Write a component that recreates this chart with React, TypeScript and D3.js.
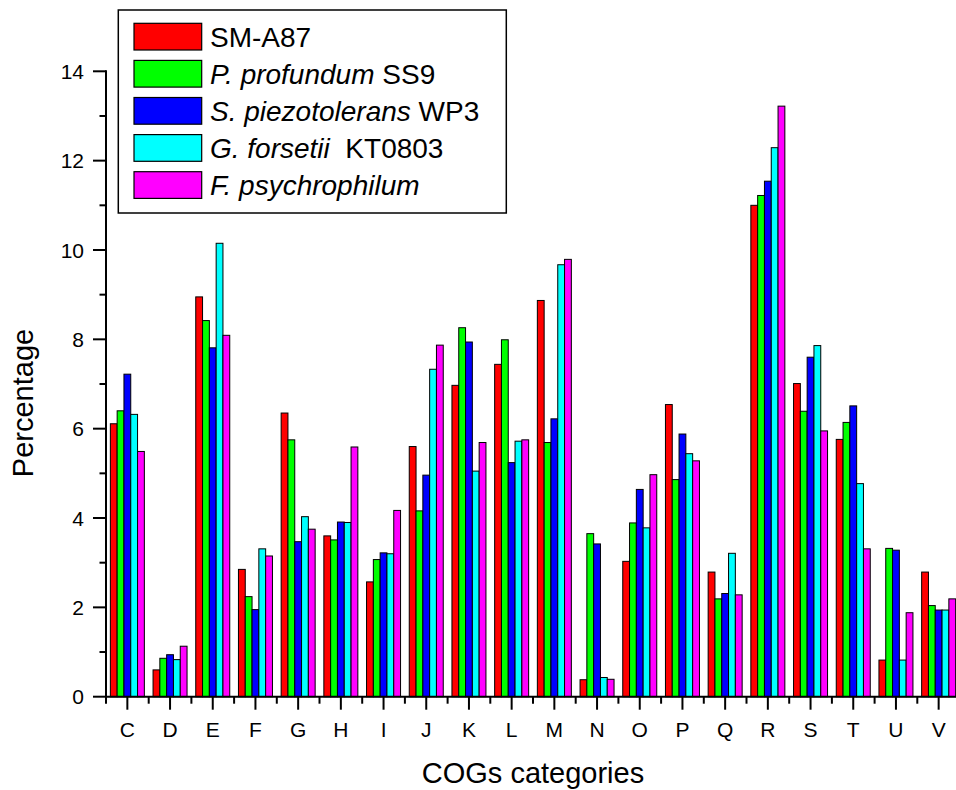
import React from "react";
import * as d3 from "d3";

const categories = ["C","D","E","F","G","H","I","J","K","L","M","N","O","P","Q","R","S","T","U","V"];
const seriesKeys = ["SM-A87","P. profundum SS9","S. piezotolerans WP3","G. forsetii KT0803","F. psychrophilum"];
const seriesColors = ["#FF0000","#00FF00","#0000FF","#00FFFF","#FF00FF"];
const legendItalic = ["","P. profundum","S. piezotolerans","G. forsetii","F. psychrophilum"];
const legendPlain = ["SM-A87"," SS9"," WP3","  KT0803",""];

const smA87 =        [6.11,0.60,8.95,2.85,6.35,3.60,2.57,5.60,6.97,7.44,8.87,0.38,3.03,6.54,2.79,11.00,7.01,5.76,0.82,2.79];
const pProfundum =   [6.40,0.86,8.42,2.24,5.75,3.51,3.07,4.16,8.26,7.99,5.69,3.65,3.89,4.86,2.19,11.22,6.39,6.14,3.32,2.04];
const sPiezo =       [7.22,0.94,7.81,1.95,3.47,3.91,3.22,4.96,7.94,5.24,6.22,3.42,4.64,5.88,2.31,11.54,7.60,6.51,3.28,1.94];
const gForsetii =    [6.32,0.83,10.15,3.31,4.03,3.90,3.20,7.33,5.05,5.72,9.67,0.43,3.78,5.44,3.21,12.29,7.86,4.77,0.82,1.94];
const fPsychro =     [5.49,1.13,8.09,3.15,3.75,5.59,4.17,7.87,5.69,5.75,9.79,0.39,4.97,5.28,2.28,13.22,5.95,3.31,1.88,2.19];
const seriesValues = [smA87, pProfundum, sPiezo, gForsetii, fPsychro];

const yMajorTicks = [0,2,4,6,8,10,12,14];
const yMinorTicks = [1,3,5,7,9,11,13];

const W = 956, H = 790;
const FONT = "'Liberation Sans', Arial, Helvetica, sans-serif";

export default function App() {
  const x0 = d3.scaleBand<string>().domain(categories).range([106, 960]).padding(0);
  const bw = x0.bandwidth();
  const groupW = 34;
  const x1 = d3.scaleBand<string>().domain(seriesKeys).range([(bw - groupW) / 2, (bw + groupW) / 2]).padding(0);
  const y = d3.scaleLinear().domain([0, 14]).range([696.7, 71.3]);
  const y0 = y(0);

  const boundaries = categories.map((c) => x0(c)!).concat([x0(categories[categories.length - 1])! + bw]);

  return (
    <svg width={W} height={H} style={{ position: "absolute", left: 0, top: 0, background: "#fff" }} fontFamily={FONT}>
      <rect x={0} y={0} width={W} height={H} fill="#fff" />
      {/* bars */}
      {categories.map((c, ci) => (
        <g key={c} transform={`translate(${x0(c)},0)`}>
          {seriesKeys.map((s, si) => {
            const v = seriesValues[si][ci];
            return (
              <rect key={s} x={x1(s)!} y={y(v)} width={x1.bandwidth()} height={y0 - y(v)}
                fill={seriesColors[si]} stroke="#000" strokeWidth={1} />
            );
          })}
        </g>
      ))}
      {/* y axis */}
      <line x1={106} x2={106} y1={y(14) - 1} y2={y0} stroke="#000" strokeWidth={2} />
      {yMajorTicks.map((t) => (
        <g key={t}>
          <line x1={93} x2={106} y1={y(t)} y2={y(t)} stroke="#000" strokeWidth={2} />
          <text x={84} y={y(t)} dy="0.36em" textAnchor="end" fontSize={21}>{t}</text>
        </g>
      ))}
      {yMinorTicks.map((t) => (
        <line key={t} x1={99.5} x2={106} y1={y(t)} y2={y(t)} stroke="#000" strokeWidth={2} />
      ))}
      {/* x axis */}
      <line x1={105} x2={960} y1={y0} y2={y0} stroke="#000" strokeWidth={2} />
      {categories.map((c) => (
        <g key={c}>
          <line x1={x0(c)! + bw / 2} x2={x0(c)! + bw / 2} y1={y0} y2={y0 + 13} stroke="#000" strokeWidth={2} />
          <text x={x0(c)! + bw / 2} y={737} textAnchor="middle" fontSize={21}>{c}</text>
        </g>
      ))}
      {boundaries.map((b, i) => (
        <line key={i} x1={b} x2={b} y1={y0} y2={y0 + 7} stroke="#000" strokeWidth={2} />
      ))}
      {/* axis titles */}
      <text x={533} y={783} textAnchor="middle" fontSize={29}>COGs categories</text>
      <text transform={`translate(33,403) rotate(-90)`} textAnchor="middle" fontSize={29}>Percentage</text>
      {/* legend */}
      <rect x={118.3} y={10} width={388} height={203} fill="#fff" stroke="#000" strokeWidth={1.5} />
      {seriesKeys.map((s, i) => {
        const top = 23.3 + i * 37.1;
        return (
          <g key={s}>
            <rect x={134} y={top} width={67.7} height={26.7} fill={seriesColors[i]} stroke="#000" strokeWidth={1.2} />
            <text x={210} y={top + 23.4} fontSize={28}>
              {legendItalic[i] ? <tspan fontStyle="italic">{legendItalic[i]}</tspan> : null}
              {legendPlain[i] ? <tspan style={{ whiteSpace: "pre" }}>{legendPlain[i]}</tspan> : null}
            </text>
          </g>
        );
      })}
    </svg>
  );
}
